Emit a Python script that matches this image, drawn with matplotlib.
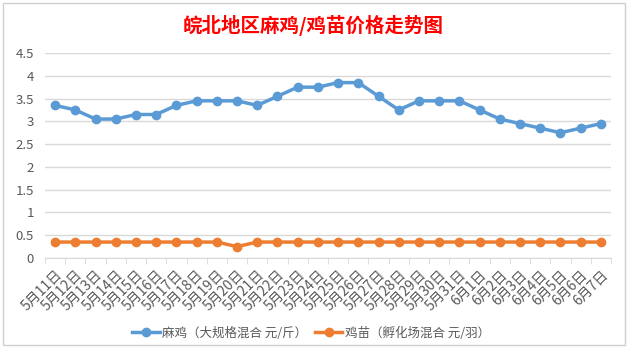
import matplotlib.pyplot as plt
from matplotlib.patches import Rectangle

plt.rcParams['font.family'] = ['Noto Sans CJK SC', 'DejaVu Sans']

# dates May 11 - June 7
dates = ['5月%d日' % d for d in range(11, 32)] + ['6月%d日' % d for d in range(1, 8)]
majii = [3.35, 3.25, 3.05, 3.05, 3.15, 3.15, 3.35, 3.45, 3.45, 3.45,
         3.35, 3.55, 3.75, 3.75, 3.85, 3.85, 3.55, 3.25, 3.45, 3.45,
         3.45, 3.25, 3.05, 2.95, 2.85, 2.75, 2.85, 2.95]
jimiao = [0.35] * 9 + [0.25] + [0.35] * 18
label1 = '麻鸡（大规格混合 元/斤）'
label2 = '鸡苗（孵化场混合 元/羽）'

fig = plt.figure(figsize=(6.29, 3.57), dpi=100)
# chart frame like excel
fig.patches.append(Rectangle((3/629, 12/357), 622/629, 342/357, transform=fig.transFigure,
                             fill=False, edgecolor='#D0D0D0', linewidth=1))
ax = fig.add_axes([45/629, 1 - 258/357, 566/629, 205/357])

x = list(range(len(dates)))
ax.plot(x, majii, color='#5B9BD5', linewidth=2.5, marker='o', markersize=6, label=label1)
ax.plot(x, jimiao, color='#ED7D31', linewidth=2.5, marker='o', markersize=6, label=label2)

ax.set_xlim(-0.5, len(dates) - 0.5)
ax.set_ylim(0, 4.5)
ax.set_yticks([0, 0.5, 1, 1.5, 2, 2.5, 3, 3.5, 4, 4.5])
ax.set_yticklabels(['0', '0.5', '1', '1.5', '2', '2.5', '3', '3.5', '4', '4.5'])
ax.yaxis.grid(True, color='#D9D9D9', linewidth=1)
ax.set_axisbelow(True)
for s in ['top', 'right', 'left']:
    ax.spines[s].set_visible(False)
ax.spines['bottom'].set_color('#D9D9D9')
ax.tick_params(axis='y', length=0, labelsize=9.5, labelcolor='#595959', pad=8)

ax.set_xticks([i - 0.5 for i in range(len(dates) + 1)], minor=True)
ax.set_xticks(x)
ax.set_xticklabels(dates, rotation=45, ha='right', rotation_mode='anchor',
                   fontsize=10, color='#595959')
ax.tick_params(axis='x', which='major', length=0, pad=7)
ax.tick_params(axis='x', which='minor', length=4, color='#D9D9D9')

fig.text(313/629, 1 - 25/357, '皖北地区麻鸡/鸡苗价格走势图', ha='center', va='center',
         fontsize=14, color='#FF0000', fontweight='bold')

leg = fig.legend(loc='center', bbox_to_anchor=(311/629, 1 - 333/357), ncol=2, frameon=False,
                 fontsize=9, handlelength=2.2, handletextpad=0.2, columnspacing=0.6)
for t in leg.get_texts():
    t.set_color('#595959')

fig.savefig('out.png', dpi=100)
